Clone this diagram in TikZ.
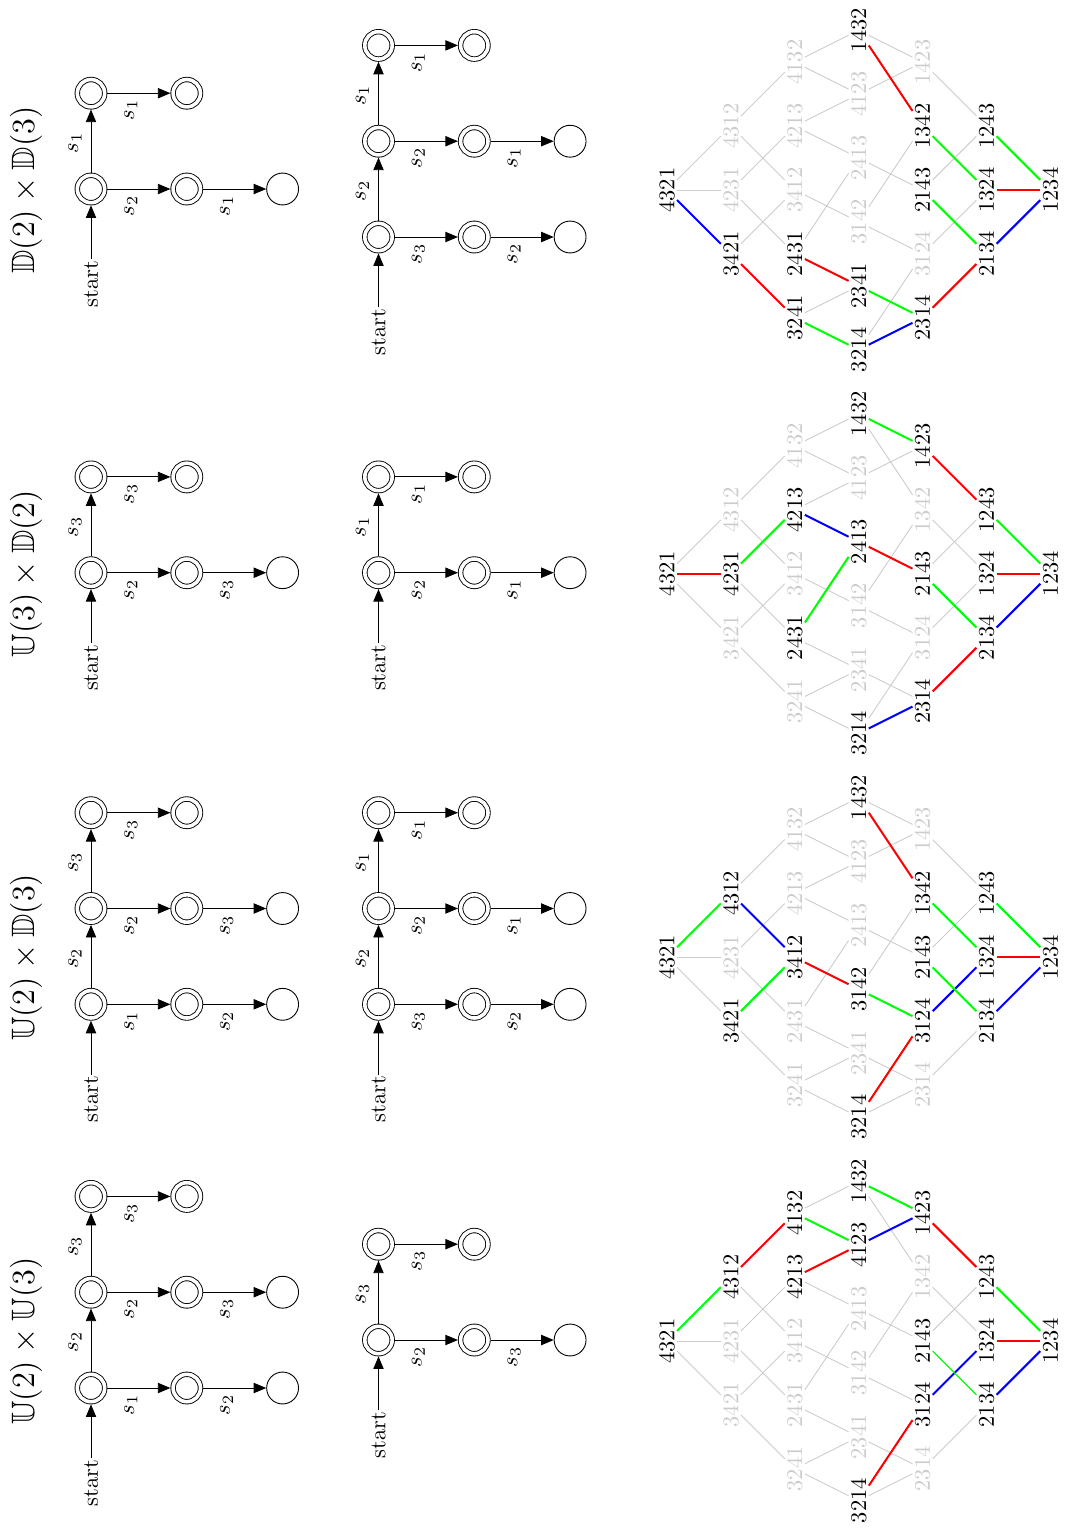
\documentclass[tikz,border=0pt]{standalone}
\usepackage{amssymb}
\usetikzlibrary{arrows.meta}
\definecolor{ltgray}{gray}{0.8}

\newcommand\perms{4321/0/6, 3421/-1/5, 4231/0/5, 4312/1/5, 3241/-2/4, 2431/-1/4, 3412/0/4, 4213/1/4, 4132/2/4, 3214/-2.5/3, 2341/-1.5/3, 3142/-0.5/3, 2413/0.5/3, 4123/1.5/3, 1432/2.5/3, 2314/-2/2, 3124/-1/2, 2143/0/2, 1342/1/2, 1423/2/2, 2134/-1/1, 1324/0/1, 1243/1/1, 1234/0/0}
\newcommand\covers{4321/3421, 4321/4231, 4321/4312, 3421/3241, 3421/3412, 4231/2431, 4231/4213, 4312/3412, 4312/4132, 3241/2341, 3241/3214, 2431/2341, 2431/2413, 3412/3142, 4213/2413, 4213/4123, 4132/1432, 4132/4123, 3214/2314, 3214/3124, 2341/2314, 3142/1342, 3142/3124, 2413/2143, 4123/1423, 1432/1342, 1432/1423, 2314/2134, 3124/1324, 2143/1243, 2143/2134, 1342/1324, 1423/1243, 2134/1234, 1324/1234, 1243/1234}

\newcommand\lattice[4]{%
  \begin{scope}[shift={(0,#2)}]
    \foreach \n/\X/\r in \perms {%
      \gdef\pcol{ltgray}%
      \foreach \b in {#3} {\ifnum\b=\n\relax\gdef\pcol{black}\fi}%
      \node[perm, text=\pcol] (#1\n) at ({667+(6-\r)*63.9},{-63.9*\X}) {\n};
    }
    \foreach \u/\v in \covers {\draw[gedge] (#1\u) -- (#1\v);}
    \foreach \u/\v/\s in {#4} {\draw[\s] (#1\u) -- (#1\v);}
  \end{scope}}

\newcommand\autoThree[8]{%
  \node[acc] (#1A) at (0,0) {};
  \node[acc] (#1B) at (0,-95.8) {};
  \node[acc] (#1C) at (0,-191.6) {};
  \node[acc] (#1D) at (95.8,0) {};
  \node[sgl] (#1E) at (191.6,0) {};
  \node[acc] (#1F) at (95.8,-95.8) {};
  \node[sgl] (#1G) at (191.6,-95.8) {};
  \node[acc] (#1H) at (95.8,-191.6) {};
  \node[starttxt] (#1S) at (0,95) {start};
  \draw[trans] (#1S) -- (#1A);
  \draw[trans] (#1A) -- node[uplab] {$s_{#2}$} (#1B);
  \draw[trans] (#1B) -- node[uplab] {$s_{#3}$} (#1C);
  \draw[trans] (#1A) -- node[rtlab] {$s_{#4}$} (#1D);
  \draw[trans] (#1D) -- node[rtlab] {$s_{#5}$} (#1E);
  \draw[trans] (#1B) -- node[rtlab] {$s_{#6}$} (#1F);
  \draw[trans] (#1F) -- node[rtlab] {$s_{#7}$} (#1G);
  \draw[trans] (#1C) -- node[rtlab] {$s_{#8}$} (#1H);
}
\newcommand\autoTwo[5]{%
  \node[acc] (#1A) at (0,0) {};
  \node[acc] (#1B) at (0,-95.8) {};
  \node[acc] (#1D) at (95.8,0) {};
  \node[sgl] (#1E) at (191.6,0) {};
  \node[acc] (#1F) at (95.8,-95.8) {};
  \node[starttxt] (#1S) at (0,95) {start};
  \draw[trans] (#1S) -- (#1A);
  \draw[trans] (#1A) -- node[uplab] {$s_{#2}$} (#1B);
  \draw[trans] (#1A) -- node[rtlab] {$s_{#3}$} (#1D);
  \draw[trans] (#1D) -- node[rtlab] {$s_{#4}$} (#1E);
  \draw[trans] (#1B) -- node[rtlab] {$s_{#5}$} (#1F);
}

\begin{document}
\begin{tikzpicture}[x=0.44527pt, y=-0.44527pt,
  perm/.style={rotate=90, inner sep=0.8pt},
  gedge/.style={draw=ltgray, line width=0.4pt},
  eA/.style={draw=blue, line width=0.9pt},
  eB/.style={draw=red, line width=0.9pt},
  eC/.style={draw=green, line width=0.9pt},
  eCthin/.style={draw=green, line width=0.45pt},
  acc/.style={circle, draw, double, double distance=1.6pt, minimum size=12.2pt, inner sep=0pt, outer sep=1.2pt},
  sgl/.style={circle, draw, minimum size=14.2pt, inner sep=0pt},
  trans/.style={-{Triangle[length=5.6pt,width=4.6pt]}},
  uplab/.style={shift={(-16,2)}, rotate=90, inner sep=0pt},
  rtlab/.style={shift={(-8,17)}, rotate=90, inner sep=0pt},
  starttxt/.style={rotate=90, inner sep=0.5pt},
  ttl/.style={rotate=90, font=\Large},
]
\useasboundingbox (0,0) rectangle (1067,1528);

% titles
\node[ttl] (t1) at (26,1341) {$\mathbb{U}(2)\times\mathbb{U}(3)$};
\node[ttl] (t2) at (26,957.3) {$\mathbb{U}(2)\times\mathbb{D}(3)$};
\node[ttl] (t3) at (26,573.7) {$\mathbb{U}(3)\times\mathbb{D}(2)$};
\node[ttl] (t4) at (26,190) {$\mathbb{D}(2)\times\mathbb{D}(3)$};

% automata
\begin{scope}[shift={(91,1388)}]\autoThree{pa}{2}{3}{1}{2}{2}{3}{3}\end{scope}
\begin{scope}[shift={(378.5,1340)}]\autoTwo{pb}{3}{2}{3}{3}\end{scope}
\begin{scope}[shift={(91,1004.3)}]\autoThree{qa}{2}{3}{1}{2}{2}{3}{3}\end{scope}
\begin{scope}[shift={(378.5,1004.3)}]\autoThree{qb}{2}{1}{3}{2}{2}{1}{1}\end{scope}
\begin{scope}[shift={(91,572.7)}]\autoTwo{ra}{3}{2}{3}{3}\end{scope}
\begin{scope}[shift={(378.5,572.7)}]\autoTwo{rb}{1}{2}{1}{1}\end{scope}
\begin{scope}[shift={(91,189)}]\autoTwo{sa}{1}{2}{1}{1}\end{scope}
\begin{scope}[shift={(378.5,237)}]\autoThree{sb}{2}{1}{3}{2}{2}{1}{1}\end{scope}

% lattices
\lattice{p}{1341}{4321,4312,4213,4132,3214,4123,1432,3124,2143,1423,2134,1324,1243,1234}
  {4321/4312/eC, 4312/4132/eB, 4132/4123/eC, 4213/4123/eB, 4123/1423/eA, 1432/1423/eC, 1423/1243/eB, 1243/1234/eC, 1324/1234/eB, 2134/1234/eA, 3124/1324/eA, 2143/2134/eCthin, 3214/3124/eB}
\lattice{q}{957.3}{4321,4312,3421,3412,3214,3142,1432,3124,1342,2143,2134,1324,1243,1234}
  {4321/4312/eC, 4312/3412/eA, 3421/3412/eC, 3412/3142/eB, 3142/3124/eC, 3214/3124/eB, 3124/1324/eA, 1432/1342/eB, 1342/1324/eC, 2143/2134/eC, 2134/1234/eA, 1324/1234/eB, 1243/1234/eC}
\lattice{r}{573.7}{4321,4231,4213,2431,2413,3214,1432,2314,2143,1423,2134,1324,1243,1234}
  {4321/4231/eB, 4231/4213/eC, 4213/2413/eA, 2431/2413/eC, 2413/2143/eB, 2143/2134/eC, 3214/2314/eA, 2314/2134/eB, 1432/1423/eC, 1423/1243/eB, 1243/1234/eC, 1324/1234/eB, 2134/1234/eA}
\lattice{s}{190}{4321,3421,3241,2431,3214,2341,1432,2314,1342,2143,2134,1324,1243,1234}
  {4321/3421/eA, 3421/3241/eB, 3241/3214/eC, 2431/2341/eB, 2341/2314/eC, 3214/2314/eA, 2314/2134/eB, 1432/1342/eB, 1342/1324/eC, 2143/2134/eC, 2134/1234/eA, 1324/1234/eB, 1243/1234/eC}
\end{tikzpicture}
\end{document}
